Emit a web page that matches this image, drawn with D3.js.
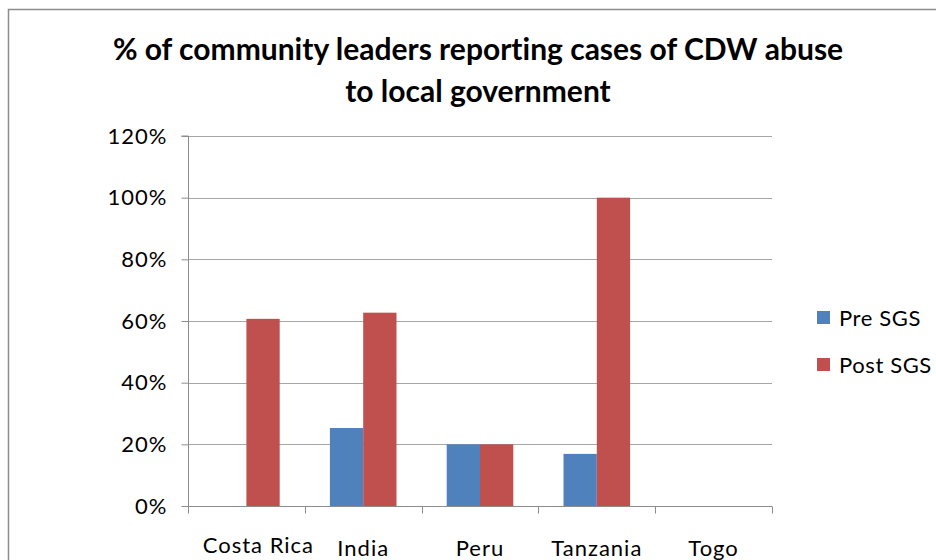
<!DOCTYPE html>
<html>
<head>
<meta charset="utf-8">
<script src="https://cdn.jsdelivr.net/npm/d3@7/dist/d3.min.js"></script>
<style>
  html, body { margin: 0; padding: 0; background: #fff; }
  svg { display: block; }
  text { font-family: Lato, "Open Sans", "Liberation Sans", sans-serif; fill: #000; font-variant-ligatures: none; }
</style>
</head>
<body>
<script>
const categories = ["Costa Rica", "India", "Peru", "Tanzania", "Togo"];
const seriesNames = ["Pre SGS", "Post SGS"];
const preSGS = [0, 0.253, 0.20, 0.169, 0];
const postSGS = [0.607, 0.627, 0.20, 1.00, 0];
const yTicks = [0, 0.2, 0.4, 0.6, 0.8, 1.0, 1.2];
const titleLines = ["% of community leaders reporting cases of CDW abuse", "to local government"];
const colors = ["#4F81BD", "#C0504D"];

const W = 936, H = 560;
const plot = { left: 188, right: 772, top: 136, bottom: 506 };

const svg = d3.select("body").append("svg").attr("width", W).attr("height", H);

// outer chart border
svg.append("rect").attr("x", 8.5).attr("y", 9.5).attr("width", W + 10).attr("height", H + 10)
  .attr("fill", "none").attr("stroke", "#8c8c8c").attr("stroke-width", 1.5);

// title
svg.append("g").selectAll("text").data(titleLines).join("text")
  .attr("x", 478).attr("y", (d, i) => 60 + i * 42)
  .attr("text-anchor", "middle")
  .attr("font-size", 30).attr("font-weight", "bold")
  .text(d => d);

const y = d3.scaleLinear().domain([0, 1.2]).range([plot.bottom, plot.top]);
const x0 = d3.scaleBand().domain(categories).range([plot.left, plot.right])
  .paddingInner(0.43).paddingOuter(0.215);
const x1 = d3.scaleBand().domain(seriesNames).range([0, x0.bandwidth()]);

// gridlines
svg.append("g").selectAll("line").data(yTicks.filter(t => t > 0)).join("line")
  .attr("x1", plot.left).attr("x2", plot.right)
  .attr("y1", d => Math.round(y(d)) + 0.5).attr("y2", d => Math.round(y(d)) + 0.5)
  .attr("stroke", "#a6a6a6").attr("stroke-width", 1);

// y axis
const yAxis = d3.axisLeft(y).tickValues(yTicks).tickFormat(d3.format(".0%")).tickSize(7).tickPadding(14);
const gy = svg.append("g").attr("transform", `translate(${plot.left + 0.5},0)`).call(yAxis);
gy.select(".domain").attr("stroke", "#8c8c8c").attr("d", `M-7,${plot.top}H0V${plot.bottom}`);
gy.selectAll(".tick line").attr("stroke", "#8c8c8c");
gy.selectAll(".tick text").attr("font-size", 22).attr("fill", "#000")
  .attr("letter-spacing", 1)
  .attr("font-family", "Lato, 'Open Sans', sans-serif");

// bars
const data = categories.map((c, i) => ({ cat: c, vals: [preSGS[i], postSGS[i]] }));
const groups = svg.append("g").selectAll("g").data(data).join("g")
  .attr("transform", d => `translate(${x0(d.cat)},0)`);
groups.selectAll("rect").data(d => d.vals.map((v, j) => ({ v, s: seriesNames[j], j })))
  .join("rect")
  .attr("x", d => x1(d.s))
  .attr("width", x1.bandwidth())
  .attr("y", d => y(d.v))
  .attr("height", d => plot.bottom - y(d.v))
  .attr("fill", d => colors[d.j]);

// x axis
const xAxis = d3.axisBottom(x0).tickSize(0).tickPadding(0);
const gx = svg.append("g").attr("transform", `translate(0,${plot.bottom + 0.5})`).call(xAxis);
gx.select(".domain").attr("stroke", "#8c8c8c").attr("d", `M${plot.left},0H${plot.right}`);
gx.selectAll(".tick text").attr("font-size", 22).attr("fill", "#000").attr("dy", 0)
  .attr("y", (d, i) => i === 0 ? 46 : 49)
  .attr("dx", (d, i) => i === 0 ? 12 : 0)
  .attr("letter-spacing", 1)
  .attr("font-family", "Lato, 'Open Sans', sans-serif");
// category boundary ticks
const bounds = d3.range(categories.length + 1).map(i => plot.left + i * x0.step());
gx.append("g").selectAll("line").data(bounds).join("line")
  .attr("x1", d => Math.round(d) + 0.5).attr("x2", d => Math.round(d) + 0.5)
  .attr("y1", 0).attr("y2", 7).attr("stroke", "#8c8c8c");

// legend
const lg = svg.append("g").selectAll("g").data(seriesNames).join("g")
  .attr("transform", (d, i) => `translate(817,${311 + i * 47})`);
lg.append("rect").attr("width", 13).attr("height", 13).attr("fill", (d, i) => colors[i]);
lg.append("text").attr("x", 22).attr("y", 15).attr("font-size", 22)
  .attr("letter-spacing", 0.6).text(d => d);
</script>
</body>
</html>
